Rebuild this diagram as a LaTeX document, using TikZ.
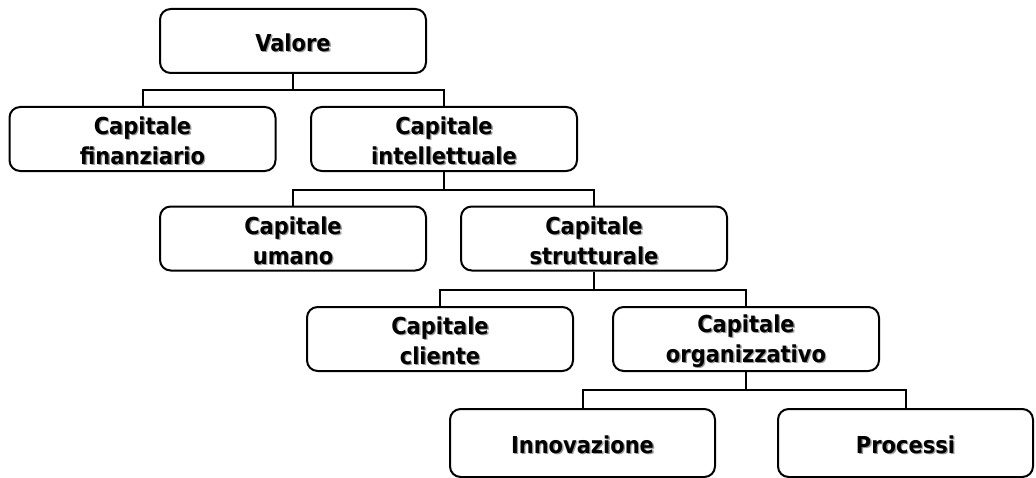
\documentclass[tikz,border=0pt]{standalone}
\usepackage{fontspec}
\setmainfont{DejaVu Sans Condensed}
\definecolor{shadowgray}{gray}{0.6}
% bold text with a soft grey drop shadow
\newcommand\shd[1]{\leavevmode\rlap{\kern1pt\raisebox{-1pt}{\textcolor{shadowgray}{#1}}}#1}
% tall strut that sets the text block slightly lower in its box
\newcommand\topstrut{\rule{0pt}{17pt}}
\begin{document}
\begin{tikzpicture}[x={(0.75pt,0)},y={(0,-0.75pt)},
  box/.style={draw=black,line width=1.5pt,rounded corners=8pt,fill=white,
    inner sep=0pt,minimum width=199.5pt,minimum height=48pt,align=center,
    font=\fontsize{17.5}{22.5}\selectfont\bfseries},
  conn/.style={draw=black,line width=1.5pt}]
\useasboundingbox[fill=white] (0,0) rectangle (1036,478);

% level 1
\node[box] (valore) at (293,41) {\topstrut\shd{Valore}};
% level 2
\node[box] (fin) at (142.5,139) {\topstrut\shd{Capitale}\\\shd{finanziario}};
\node[box] (intel) at (444,139) {\topstrut\shd{Capitale}\\\shd{intellettuale}};
% level 3
\node[box] (umano) at (293,238.5) {\topstrut\shd{Capitale}\\\shd{umano}};
\node[box] (strut) at (594,238.5) {\topstrut\shd{Capitale}\\\shd{strutturale}};
% level 4
\node[box] (cliente) at (440,339) {\topstrut\shd{Capitale}\\\shd{cliente}};
\node[box] (organ) at (746,339) {\topstrut\shd{Capitale}\\\shd{organizzativo}};
% level 5
\node[box,minimum width=198.75pt,minimum height=51pt] (innov) at (582.5,443) {\topstrut\shd{Innovazione}};
\node[box,minimum width=191.25pt,minimum height=51pt] (proc) at (905.5,443) {\topstrut\shd{Processi}};

% connectors
\coordinate (b1) at (293,90);
\coordinate (b2) at (444,190);
\coordinate (b3) at (594,290);
\coordinate (b4) at (746,390);
\draw[conn] (valore.south) -- (b1);
\draw[conn] (b1) -| (fin.north);
\draw[conn] (b1) -| (intel.north);
\draw[conn] (intel.south) -- (b2);
\draw[conn] (b2) -| (umano.north);
\draw[conn] (b2) -| (strut.north);
\draw[conn] (strut.south) -- (b3);
\draw[conn] (b3) -| (cliente.north);
\draw[conn] (b3) -| (organ.north);
\draw[conn] (organ.south) -- (b4);
\draw[conn] (b4) -| (innov.north);
\draw[conn] (b4) -| (proc.north);
\end{tikzpicture}
\end{document}
